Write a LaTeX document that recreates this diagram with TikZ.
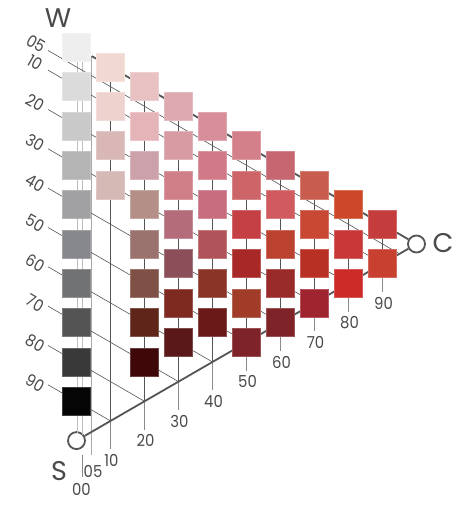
\documentclass[tikz,border=0pt]{standalone}
\usepackage{fontspec}
\setmainfont{Poppins}
\newfontfamily\lblfont{Poppins}[FakeStretch=0.9]
\definecolor{lnc}{HTML}{555555}
\definecolor{tkc}{HTML}{8A8A8A}
\definecolor{glc}{HTML}{BDBDBD}
\definecolor{txc}{HTML}{4A4A4A}
% gray column
\definecolor{q00}{HTML}{EEEEEE}\definecolor{q01}{HTML}{DBDBDC}\definecolor{q02}{HTML}{C9C9C9}
\definecolor{q03}{HTML}{B4B4B4}\definecolor{q04}{HTML}{A1A1A3}\definecolor{q05}{HTML}{86888B}
\definecolor{q06}{HTML}{717274}\definecolor{q07}{HTML}{545454}\definecolor{q08}{HTML}{393939}
\definecolor{q09}{HTML}{050505}
% col 1
\definecolor{q10}{HTML}{F1D9D1}\definecolor{q11}{HTML}{EDD2CE}\definecolor{q12}{HTML}{D8B7B6}\definecolor{q13}{HTML}{D5B9B4}
% col 2
\definecolor{q20}{HTML}{E8C1C3}\definecolor{q21}{HTML}{E5B4B9}\definecolor{q22}{HTML}{CCA1AA}\definecolor{q23}{HTML}{B48F88}
\definecolor{q24}{HTML}{9A736F}\definecolor{q25}{HTML}{7E5046}\definecolor{q26}{HTML}{5F2518}\definecolor{q27}{HTML}{3E0808}
% col 3
\definecolor{q30}{HTML}{DDA8B0}\definecolor{q31}{HTML}{D89BA4}\definecolor{q32}{HTML}{D07E88}\definecolor{q33}{HTML}{B56C7A}
\definecolor{q34}{HTML}{8C4E58}\definecolor{q35}{HTML}{7E2A20}\definecolor{q36}{HTML}{5A1818}
% col 4
\definecolor{q40}{HTML}{D88E9A}\definecolor{q41}{HTML}{D07A88}\definecolor{q42}{HTML}{C86C80}\definecolor{q43}{HTML}{B0545A}
\definecolor{q44}{HTML}{8A3428}\definecolor{q45}{HTML}{6A1818}
% col 5
\definecolor{q50}{HTML}{D4808A}\definecolor{q51}{HTML}{CC6468}\definecolor{q52}{HTML}{C44044}\definecolor{q53}{HTML}{A82828}
\definecolor{q54}{HTML}{A03C28}\definecolor{q55}{HTML}{7E2428}
% col 6
\definecolor{q60}{HTML}{C66670}\definecolor{q61}{HTML}{D05A5E}\definecolor{q62}{HTML}{BC4230}\definecolor{q63}{HTML}{982A2A}
\definecolor{q64}{HTML}{7E2428}
% col 7
\definecolor{q70}{HTML}{C85C4E}\definecolor{q71}{HTML}{C84834}\definecolor{q72}{HTML}{B83024}\definecolor{q73}{HTML}{A02430}
% col 8
\definecolor{q80}{HTML}{CC4828}\definecolor{q81}{HTML}{C83838}\definecolor{q82}{HTML}{CC2A26}
% col 9
\definecolor{q90}{HTML}{C43C3C}\definecolor{q91}{HTML}{C84030}
\tikzset{
  thinln/.style={draw=lnc, line width=0.6pt},
  tickln/.style={draw=tkc, line width=0.6pt},
  edgeln/.style={draw=lnc, line width=1.8pt},
  grayln/.style={draw=glc, line width=1.0pt},
  vfiveln/.style={draw=glc!90!black, line width=1.3pt},
  sqbox/.style={minimum size=28pt, inner sep=0pt, line width=0.6pt},
  circ/.style={circle, draw=lnc, fill=white, line width=1.8pt, minimum size=17pt, inner sep=0pt},
  lbl/.style={font=\lblfont\fontsize{16.5}{17}\selectfont, text=txc, inner sep=0pt},
  big/.style={font=\fontsize{27}{27}\selectfont, text=txc, inner sep=0pt}
}
\begin{document}
\begin{tikzpicture}[x=1pt,y=-1pt]
\useasboundingbox[fill=white] (0,0) rectangle (467,512);
% lattice coordinates
\foreach \j in {0,...,10}{
  \foreach \k in {0,...,10}{
    \coordinate (p\j-\k) at ({76.5+34*\j},{47.3+19.67*\j+39.33*\k});
  }
}
% circles S and C
\node[circ] (S) at (p0-10) {};
\node[circ] (C) at (p10-0) {};
% gray column lines
\coordinate (ga) at (77,47);
\coordinate (gb) at (77,433);
\coordinate (gc) at (82,47);
\coordinate (gd) at (82,435);
\draw[grayln] (ga) -- (gb);
\draw[grayln] (gc) -- (gd);
% 05 vertical line
\coordinate (w05) at (91.7,56.1);
\coordinate (v05) at (91.7,455);
\draw[vfiveln] (w05) -- (v05);
% 00 tick
\coordinate (t00a) at (82,455);
\coordinate (t00b) at (82,477);
\draw[tickln] (t00a) -- (t00b);
% diagonal black-content lines
\coordinate (L05) at (48,50.5);
\coordinate (E05) at (399.5,253.8);
\draw[thinln] (L05) -- (E05);
\foreach \k in {1,...,9}{
  \pgfmathtruncatemacro\jj{10-\k}
  \coordinate (L\k) at (48,{30.8+39.33*\k});
  \draw[thinln] (L\k) -- (p\jj-\k);
}
% vertical chroma lines and ticks
\foreach \j in {1,...,9}{
  \pgfmathtruncatemacro\kk{10-\j}
  \coordinate (t\j) at ({76.5+34*\j},{480-19.67*\j-11});
  \draw[thinln] (p\j-0) -- (p\j-\kk);
  \draw[tickln] (p\j-\kk) -- (t\j);
}
% triangle edges
\draw[edgeln] (w05) -- (C);
\draw[edgeln] (S) -- (C);
% squares
\foreach \j/\n in {0/10,1/4,2/8,3/7,4/6,5/6,6/5,7/4,8/3,9/2}{
  \foreach \k in {1,...,\n}{
    \pgfmathtruncatemacro\kk{\k-1}
    \node[sqbox, fill=q\j\kk, draw=q\j\kk!78!white] (s\j\kk) at (p\j-\kk) {};
  }
}
% left labels
\node[lbl, rotate=-30] (l05) at (36,43.5) {05};
\foreach \k in {1,...,9}{
  \node[lbl, rotate=-30] (l\k) at (35,{62.5+40.1*(\k-1)}) {\k0};
}
% bottom labels
\node[lbl] (b00) at (81.5,489) {00};
\node[lbl] (b05) at (93,471) {05};
\foreach \j in {1,...,9}{
  \node[lbl] (b\j) at ({77.5+34*\j},{480-19.67*\j}) {\j0};
}
% corner letters
\node[big] (W) at (58,18) {W};
\node[big] (Slbl) at (59,471) {S};
\node[big] (Clbl) at (443,243) {C};
\end{tikzpicture}
\end{document}
